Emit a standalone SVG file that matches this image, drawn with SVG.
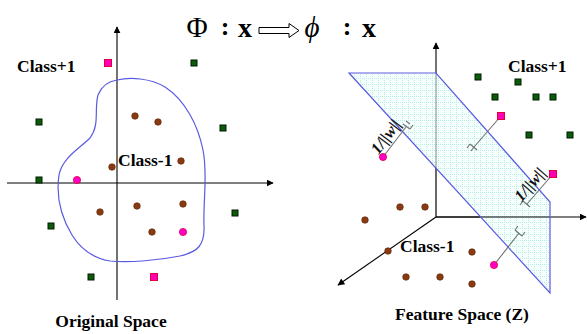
<svg xmlns="http://www.w3.org/2000/svg" width="587" height="334" viewBox="0 0 587 334">
<style>
.lbl{font-family:"Liberation Serif","Times New Roman",serif;font-weight:bold;fill:#000}
.axis{stroke:#000;stroke-width:1.1;fill:none}
.gsq{fill:#0a5c0a;stroke:#001a00;stroke-width:1}
.psq{fill:#ff00b4;stroke:#e0003c;stroke-width:1}
.bc{fill:#8a3a10;stroke:#5a2308;stroke-width:0.6}
.pc{fill:#ff00c8;stroke:#e0003c;stroke-width:0.8}
.edge{stroke:#5a5ae0;stroke-width:1.2;fill:none}
.mg{stroke:#707070;stroke-width:1.1;fill:none}
.wl{font-family:"Liberation Serif","Times New Roman",serif;font-weight:bold;font-style:italic;font-size:16.5px;fill:#111}
</style>
<defs>
<marker id="ah" viewBox="0 0 10 10" refX="9" refY="5" markerWidth="7" markerHeight="7" markerUnits="userSpaceOnUse" orient="auto">
<path d="M0,0 L10,5 L0,10 Z" fill="#000"/>
</marker>
<pattern id="grid" width="6" height="6" patternUnits="userSpaceOnUse">
<rect width="6" height="6" fill="#f6fffe"/>
<path d="M0.5,0 V6 M0,0.5 H6" stroke="#b2eee2" stroke-width="1" stroke-dasharray="1 1"/>
</pattern>
</defs>
<rect width="587" height="334" fill="#fff"/>

<g id="title">
<text x="197" y="37" font-size="29" text-anchor="middle" style="font-family:'Liberation Serif','Times New Roman',serif;font-weight:normal">Φ</text>
<text class="lbl" x="225" y="35" font-size="26" text-anchor="middle">:</text>
<text class="lbl" x="245" y="37" font-size="28" text-anchor="middle">x</text>
<polygon points="259,27.5 289,27.5 289,23.5 299,30.5 289,37.5 289,33.5 259,33.5" fill="#fff" stroke="#000" stroke-width="1"/>
<text x="312" y="37" font-size="29" text-anchor="middle" font-family="Liberation Serif, DejaVu Serif, serif" font-style="italic">ϕ</text>
<text class="lbl" x="347" y="35" font-size="26" text-anchor="middle">:</text>
<text class="lbl" x="369" y="37" font-size="28" text-anchor="middle">x</text>
</g>

<g id="connectors">
<line class="axis" x1="117" y1="300" x2="117" y2="27" marker-end="url(#ah)"/>
<line class="axis" x1="7" y1="183" x2="273" y2="183" marker-end="url(#ah)"/>
<line class="axis" x1="436" y1="217" x2="436" y2="43" marker-end="url(#ah)"/>
<line class="axis" x1="436" y1="217" x2="586" y2="217" marker-end="url(#ah)"/>
<line class="axis" x1="436" y1="217" x2="338" y2="285" marker-end="url(#ah)"/>
</g>

<g id="boundary">
<path class="edge" stroke="#4b4bd6" d="M117,80 C130,77 150,78 165,87 C185,100 198,125 203,150 C208,175 203,200 204,225 C205,245 198,252 180,256 C160,260 130,263 110,261 C92,258 80,248 72,235 C60,215 56,195 59,175 C62,158 80,148 90,138 C100,125 94,110 98,95 C102,85 110,81 117,80 Z"/>
</g>

<g id="hyperplane">
<polygon points="349,73 436,73 550,202 550,293" fill="url(#grid)"/>
<line x1="436" y1="73" x2="436" y2="217" stroke="#555" stroke-width="1" opacity="0.7"/>
<line x1="436" y1="217" x2="550" y2="217" stroke="#000" stroke-width="1"/>
<polygon class="edge" points="349,73 436,73 550,202 550,293"/>
</g>

<g id="margins">
<path class="mg" d="M383,157 L406,127"/>
<path class="mg" d="M403,124 L410,129 M410,129 L413,125 M406,121 L410,124"/>
<path class="mg" d="M501,116 L474,147"/>
<path class="mg" d="M470,144 L477,150 M470,144 L467,148 M474,147 L471,151"/>
<path class="mg" d="M553,174 L527,204"/>
<path class="mg" d="M523,201 L530,207 M523,201 L520,205"/>
<path class="mg" d="M494,265 L519,233"/>
<path class="mg" d="M515,230 L522,236 M515,230 L518,226 M522,236 L525,232"/>
<text class="wl" transform="translate(390,140) rotate(-53)" text-anchor="middle">1/||w||</text>
<text class="wl" transform="translate(534,188) rotate(-49)" text-anchor="middle">1/||w||</text>
</g>

<g id="original-points">
<rect class="psq" x="104.5" y="59.5" width="7" height="7"/>
<rect class="psq" x="150.5" y="273.5" width="7" height="7"/>
<rect class="gsq" x="191" y="60" width="6" height="6"/>
<rect class="gsq" x="36" y="119" width="6" height="6"/>
<rect class="gsq" x="220" y="125" width="6" height="6"/>
<rect class="gsq" x="36" y="177" width="6" height="6"/>
<rect class="gsq" x="232" y="210" width="6" height="6"/>
<rect class="gsq" x="48" y="223" width="6" height="6"/>
<rect class="gsq" x="88" y="274" width="6" height="6"/>
<circle class="bc" cx="135" cy="116" r="3.3"/>
<circle class="bc" cx="158" cy="122" r="3.3"/>
<circle class="bc" cx="181" cy="161" r="3.3"/>
<circle class="bc" cx="112" cy="167" r="3.3"/>
<circle class="bc" cx="100" cy="212" r="3.3"/>
<circle class="bc" cx="137" cy="206" r="3.3"/>
<circle class="bc" cx="183" cy="204" r="3.3"/>
<circle class="bc" cx="152" cy="232" r="3.3"/>
<circle class="pc" cx="77" cy="180" r="3.6"/>
<circle class="pc" cx="183" cy="232" r="3.6"/>
</g>

<g id="feature-points">
<rect class="gsq" x="475" y="74" width="6" height="6"/>
<rect class="gsq" x="515" y="79" width="6" height="6"/>
<rect class="gsq" x="492" y="94" width="6" height="6"/>
<rect class="gsq" x="533" y="94" width="6" height="6"/>
<rect class="gsq" x="550" y="94" width="6" height="6"/>
<rect class="gsq" x="526" y="132" width="6" height="6"/>
<rect class="gsq" x="567" y="132" width="6" height="6"/>
<rect class="psq" x="497.5" y="112.5" width="7" height="7"/>
<rect class="psq" x="549.5" y="170.5" width="7" height="7"/>
<circle class="pc" cx="383" cy="157" r="3.6"/>
<circle class="pc" cx="494" cy="265" r="3.6"/>
<circle class="bc" cx="400" cy="207" r="3.3"/>
<circle class="bc" cx="425" cy="207" r="3.3"/>
<circle class="bc" cx="365" cy="220" r="3.3"/>
<circle class="bc" cx="388" cy="251" r="3.3"/>
<circle class="bc" cx="472" cy="252" r="3.3"/>
<circle class="bc" cx="406" cy="277" r="3.3"/>
<circle class="bc" cx="440" cy="277" r="3.3"/>
<circle class="bc" cx="472" cy="284" r="3.3"/>
</g>

<g id="labels">
<text class="lbl" x="17" y="72" font-size="17.5">Class+1</text>
<text class="lbl" x="118" y="166" font-size="17.5">Class-1</text>
<text class="lbl" x="111" y="327" font-size="17.5" text-anchor="middle">Original Space</text>
<text class="lbl" x="508" y="72" font-size="17.5">Class+1</text>
<text class="lbl" x="400" y="252" font-size="17.5">Class-1</text>
<text class="lbl" x="462" y="320" font-size="17.5" text-anchor="middle">Feature Space (Z)</text>
</g>
</svg>
